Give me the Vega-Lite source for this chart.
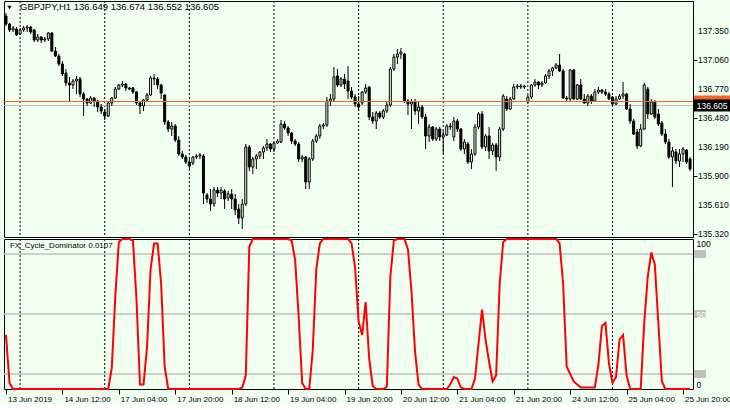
{
"$schema":"https://vega.github.io/schema/vega-lite/v6.json",
"background":"#F0FFF0",
"padding":{"left":1,"top":0,"right":0,"bottom":0},
"spacing":2,
"bounds":"flush",
"config":{"view":{"stroke":"#000","strokeWidth":1},"font":"Liberation Sans","axis":{"labelFont":"Liberation Sans","labelFontSize":8.5,"labelColor":"#000","tickColor":"#000","domain":false,"grid":false,"labelOverlap":false}},
"datasets":{
"candles":[
{"i":0,"o":137.50,"h":137.53,"l":137.40,"c":137.42,"v":36},
{"i":1,"o":137.42,"h":137.43,"l":137.34,"c":137.36,"v":4},
{"i":2,"o":137.36,"h":137.40,"l":137.34,"c":137.38,"v":0},
{"i":3,"o":137.37,"h":137.39,"l":137.30,"c":137.31,"v":0},
{"i":4,"o":137.32,"h":137.38,"l":137.31,"c":137.36,"v":0},
{"i":5,"o":137.36,"h":137.40,"l":137.34,"c":137.38,"v":0},
{"i":6,"o":137.38,"h":137.41,"l":137.34,"c":137.39,"v":0},
{"i":7,"o":137.39,"h":137.40,"l":137.32,"c":137.34,"v":0},
{"i":8,"o":137.36,"h":137.37,"l":137.24,"c":137.26,"v":0},
{"i":9,"o":137.26,"h":137.32,"l":137.24,"c":137.29,"v":0},
{"i":10,"o":137.29,"h":137.30,"l":137.23,"c":137.26,"v":0},
{"i":11,"o":137.26,"h":137.29,"l":137.24,"c":137.27,"v":0},
{"i":12,"o":137.27,"h":137.34,"l":137.25,"c":137.33,"v":0},
{"i":13,"o":137.33,"h":137.34,"l":137.14,"c":137.15,"v":0},
{"i":14,"o":137.15,"h":137.19,"l":137.09,"c":137.10,"v":0},
{"i":15,"o":137.10,"h":137.12,"l":137.00,"c":137.02,"v":0},
{"i":16,"o":137.02,"h":137.05,"l":136.90,"c":136.92,"v":0},
{"i":17,"o":136.93,"h":136.97,"l":136.80,"c":136.83,"v":0},
{"i":18,"o":136.83,"h":136.89,"l":136.65,"c":136.81,"v":0},
{"i":19,"o":136.81,"h":136.87,"l":136.77,"c":136.85,"v":0},
{"i":20,"o":136.85,"h":136.90,"l":136.72,"c":136.87,"v":0},
{"i":21,"o":136.87,"h":136.89,"l":136.69,"c":136.72,"v":0},
{"i":22,"o":136.72,"h":136.74,"l":136.50,"c":136.67,"v":0},
{"i":23,"o":136.67,"h":136.68,"l":136.60,"c":136.63,"v":0},
{"i":24,"o":136.63,"h":136.70,"l":136.62,"c":136.68,"v":0},
{"i":25,"o":136.68,"h":136.69,"l":136.59,"c":136.65,"v":0},
{"i":26,"o":136.65,"h":136.66,"l":136.54,"c":136.59,"v":0},
{"i":27,"o":136.59,"h":136.62,"l":136.52,"c":136.55,"v":0},
{"i":28,"o":136.54,"h":136.57,"l":136.46,"c":136.50,"v":0},
{"i":29,"o":136.50,"h":136.65,"l":136.49,"c":136.63,"v":0},
{"i":30,"o":136.63,"h":136.69,"l":136.60,"c":136.68,"v":14},
{"i":31,"o":136.68,"h":136.79,"l":136.67,"c":136.77,"v":62},
{"i":32,"o":136.77,"h":136.82,"l":136.76,"c":136.81,"v":98},
{"i":33,"o":136.81,"h":136.85,"l":136.79,"c":136.82,"v":100},
{"i":34,"o":136.82,"h":136.83,"l":136.75,"c":136.78,"v":100},
{"i":35,"o":136.78,"h":136.79,"l":136.76,"c":136.77,"v":100},
{"i":36,"o":136.78,"h":136.79,"l":136.72,"c":136.74,"v":99},
{"i":37,"o":136.74,"h":136.75,"l":136.61,"c":136.63,"v":60},
{"i":38,"o":136.63,"h":136.65,"l":136.52,"c":136.60,"v":3},
{"i":39,"o":136.60,"h":136.67,"l":136.55,"c":136.66,"v":3},
{"i":40,"o":136.66,"h":136.73,"l":136.65,"c":136.71,"v":28},
{"i":41,"o":136.71,"h":136.90,"l":136.70,"c":136.88,"v":80},
{"i":42,"o":136.88,"h":136.92,"l":136.81,"c":136.87,"v":97},
{"i":43,"o":136.87,"h":136.89,"l":136.77,"c":136.81,"v":97},
{"i":44,"o":136.81,"h":136.82,"l":136.67,"c":136.73,"v":70},
{"i":45,"o":136.71,"h":136.72,"l":136.41,"c":136.44,"v":15},
{"i":46,"o":136.44,"h":136.46,"l":136.34,"c":136.37,"v":0},
{"i":47,"o":136.37,"h":136.44,"l":136.30,"c":136.40,"v":0},
{"i":48,"o":136.40,"h":136.42,"l":136.24,"c":136.26,"v":0},
{"i":49,"o":136.26,"h":136.30,"l":136.10,"c":136.12,"v":0},
{"i":50,"o":136.12,"h":136.15,"l":136.07,"c":136.09,"v":0},
{"i":51,"o":136.09,"h":136.11,"l":136.02,"c":136.04,"v":0},
{"i":52,"o":136.04,"h":136.07,"l":135.97,"c":136.00,"v":0},
{"i":53,"o":136.03,"h":136.10,"l":136.01,"c":136.09,"v":0},
{"i":54,"o":136.09,"h":136.12,"l":136.07,"c":136.10,"v":0},
{"i":55,"o":136.10,"h":136.13,"l":136.07,"c":136.11,"v":0},
{"i":56,"o":136.10,"h":136.12,"l":135.62,"c":135.73,"v":0},
{"i":57,"o":135.71,"h":135.73,"l":135.63,"c":135.67,"v":0},
{"i":58,"o":135.67,"h":135.77,"l":135.55,"c":135.62,"v":0},
{"i":59,"o":135.62,"h":135.79,"l":135.59,"c":135.76,"v":0},
{"i":60,"o":135.76,"h":135.79,"l":135.69,"c":135.73,"v":0},
{"i":61,"o":135.73,"h":135.79,"l":135.67,"c":135.76,"v":0},
{"i":62,"o":135.75,"h":135.77,"l":135.57,"c":135.67,"v":0},
{"i":63,"o":135.68,"h":135.75,"l":135.65,"c":135.72,"v":0},
{"i":64,"o":135.72,"h":135.77,"l":135.57,"c":135.67,"v":0},
{"i":65,"o":135.67,"h":135.72,"l":135.51,"c":135.56,"v":0},
{"i":66,"o":135.57,"h":135.62,"l":135.42,"c":135.48,"v":0},
{"i":67,"o":135.48,"h":135.67,"l":135.37,"c":135.62,"v":1},
{"i":68,"o":135.62,"h":136.22,"l":135.60,"c":136.19,"v":9},
{"i":69,"o":136.19,"h":136.21,"l":135.95,"c":135.99,"v":95},
{"i":70,"o":135.99,"h":136.09,"l":135.92,"c":136.07,"v":100},
{"i":71,"o":136.07,"h":136.12,"l":135.97,"c":136.10,"v":100},
{"i":72,"o":136.10,"h":136.15,"l":136.07,"c":136.14,"v":100},
{"i":73,"o":136.14,"h":136.20,"l":136.07,"c":136.18,"v":100},
{"i":74,"o":136.18,"h":136.27,"l":136.15,"c":136.22,"v":100},
{"i":75,"o":136.22,"h":136.23,"l":136.14,"c":136.17,"v":100},
{"i":76,"o":136.17,"h":136.24,"l":136.14,"c":136.23,"v":100},
{"i":77,"o":136.23,"h":136.27,"l":136.22,"c":136.25,"v":100},
{"i":78,"o":136.24,"h":136.46,"l":136.23,"c":136.42,"v":100},
{"i":79,"o":136.42,"h":136.45,"l":136.36,"c":136.38,"v":100},
{"i":80,"o":136.38,"h":136.40,"l":136.30,"c":136.33,"v":100},
{"i":81,"o":136.33,"h":136.34,"l":136.22,"c":136.25,"v":99},
{"i":82,"o":136.25,"h":136.27,"l":136.20,"c":136.22,"v":86},
{"i":83,"o":136.22,"h":136.24,"l":136.04,"c":136.07,"v":48},
{"i":84,"o":136.07,"h":136.11,"l":136.04,"c":136.09,"v":4},
{"i":85,"o":136.09,"h":136.10,"l":135.77,"c":135.84,"v":0},
{"i":86,"o":135.84,"h":136.09,"l":135.77,"c":136.07,"v":0},
{"i":87,"o":136.07,"h":136.27,"l":136.05,"c":136.25,"v":26},
{"i":88,"o":136.25,"h":136.32,"l":136.23,"c":136.30,"v":80},
{"i":89,"o":136.30,"h":136.42,"l":136.27,"c":136.40,"v":97},
{"i":90,"o":136.40,"h":136.43,"l":136.37,"c":136.41,"v":100},
{"i":91,"o":136.41,"h":136.69,"l":136.39,"c":136.65,"v":100},
{"i":92,"o":136.65,"h":136.72,"l":136.60,"c":136.67,"v":100},
{"i":93,"o":136.67,"h":136.99,"l":136.64,"c":136.89,"v":100},
{"i":94,"o":136.90,"h":136.97,"l":136.79,"c":136.81,"v":100},
{"i":95,"o":136.81,"h":136.89,"l":136.79,"c":136.87,"v":100},
{"i":96,"o":136.87,"h":136.92,"l":136.77,"c":136.82,"v":100},
{"i":97,"o":136.85,"h":137.00,"l":136.67,"c":136.75,"v":100},
{"i":98,"o":136.75,"h":136.79,"l":136.67,"c":136.69,"v":97},
{"i":99,"o":136.69,"h":136.72,"l":136.59,"c":136.62,"v":81},
{"i":100,"o":136.62,"h":136.70,"l":136.55,"c":136.59,"v":45},
{"i":101,"o":136.63,"h":136.75,"l":136.61,"c":136.74,"v":36},
{"i":102,"o":136.74,"h":136.82,"l":136.72,"c":136.78,"v":58},
{"i":103,"o":136.79,"h":136.80,"l":136.46,"c":136.49,"v":20},
{"i":104,"o":136.49,"h":136.54,"l":136.42,"c":136.45,"v":2},
{"i":105,"o":136.45,"h":136.55,"l":136.37,"c":136.53,"v":0},
{"i":106,"o":136.53,"h":136.55,"l":136.47,"c":136.49,"v":0},
{"i":107,"o":136.49,"h":136.57,"l":136.47,"c":136.55,"v":0},
{"i":108,"o":136.55,"h":136.64,"l":136.53,"c":136.61,"v":1.5},
{"i":109,"o":136.61,"h":136.99,"l":136.59,"c":136.97,"v":75},
{"i":110,"o":136.97,"h":137.12,"l":136.95,"c":137.09,"v":99},
{"i":111,"o":137.09,"h":137.17,"l":137.02,"c":137.12,"v":100},
{"i":112,"o":137.12,"h":137.18,"l":137.07,"c":137.14,"v":100},
{"i":113,"o":137.12,"h":137.13,"l":136.63,"c":136.65,"v":100},
{"i":114,"o":136.65,"h":136.67,"l":136.51,"c":136.62,"v":93},
{"i":115,"o":136.62,"h":136.67,"l":136.37,"c":136.64,"v":65},
{"i":116,"o":136.64,"h":136.67,"l":136.51,"c":136.55,"v":25},
{"i":117,"o":136.55,"h":136.64,"l":136.42,"c":136.59,"v":3},
{"i":118,"o":136.59,"h":136.61,"l":136.47,"c":136.49,"v":0},
{"i":119,"o":136.49,"h":136.52,"l":136.17,"c":136.30,"v":0},
{"i":120,"o":136.30,"h":136.42,"l":136.24,"c":136.39,"v":0},
{"i":121,"o":136.39,"h":136.40,"l":136.25,"c":136.27,"v":0},
{"i":122,"o":136.27,"h":136.39,"l":136.25,"c":136.37,"v":0},
{"i":123,"o":136.37,"h":136.39,"l":136.25,"c":136.29,"v":0},
{"i":124,"o":136.29,"h":136.35,"l":136.12,"c":136.31,"v":0},
{"i":125,"o":136.31,"h":136.42,"l":136.30,"c":136.40,"v":0},
{"i":126,"o":136.40,"h":136.43,"l":136.36,"c":136.39,"v":3},
{"i":127,"o":136.29,"h":136.49,"l":136.25,"c":136.45,"v":8},
{"i":128,"o":136.45,"h":136.47,"l":136.34,"c":136.37,"v":7},
{"i":129,"o":136.37,"h":136.38,"l":136.15,"c":136.17,"v":1},
{"i":130,"o":136.17,"h":136.27,"l":136.12,"c":136.24,"v":0},
{"i":131,"o":136.22,"h":136.24,"l":136.02,"c":136.04,"v":0},
{"i":132,"o":136.04,"h":136.17,"l":135.97,"c":136.12,"v":0},
{"i":133,"o":136.12,"h":136.42,"l":136.10,"c":136.39,"v":7},
{"i":134,"o":136.39,"h":136.54,"l":136.37,"c":136.52,"v":30},
{"i":135,"o":136.52,"h":136.55,"l":136.17,"c":136.19,"v":53},
{"i":136,"o":136.19,"h":136.32,"l":136.15,"c":136.30,"v":33},
{"i":137,"o":136.30,"h":136.39,"l":136.07,"c":136.15,"v":18},
{"i":138,"o":136.15,"h":136.23,"l":136.11,"c":136.21,"v":5},
{"i":139,"o":136.21,"h":136.23,"l":135.95,"c":136.09,"v":9},
{"i":140,"o":136.09,"h":136.39,"l":136.05,"c":136.37,"v":70},
{"i":141,"o":136.37,"h":136.72,"l":136.35,"c":136.70,"v":98},
{"i":142,"o":136.67,"h":136.70,"l":136.55,"c":136.57,"v":100},
{"i":143,"o":136.57,"h":136.69,"l":136.56,"c":136.67,"v":100},
{"i":144,"o":136.67,"h":136.82,"l":136.66,"c":136.79,"v":100},
{"i":145,"o":136.79,"h":136.82,"l":136.77,"c":136.80,"v":100},
{"i":146,"o":136.80,"h":136.82,"l":136.77,"c":136.79,"v":100},
{"i":147,"o":136.79,"h":136.81,"l":136.77,"c":136.80,"v":100},
{"i":148,"o":136.64,"h":136.71,"l":136.62,"c":136.69,"v":100},
{"i":149,"o":136.69,"h":136.82,"l":136.67,"c":136.81,"v":100},
{"i":150,"o":136.81,"h":136.87,"l":136.79,"c":136.84,"v":100},
{"i":151,"o":136.84,"h":136.85,"l":136.77,"c":136.81,"v":100},
{"i":152,"o":136.81,"h":136.85,"l":136.79,"c":136.83,"v":100},
{"i":153,"o":136.83,"h":136.92,"l":136.82,"c":136.90,"v":100},
{"i":154,"o":136.90,"h":136.97,"l":136.87,"c":136.95,"v":100},
{"i":155,"o":136.95,"h":136.99,"l":136.90,"c":136.98,"v":100},
{"i":156,"o":136.98,"h":137.03,"l":136.97,"c":137.01,"v":100},
{"i":157,"o":137.01,"h":137.12,"l":136.94,"c":136.95,"v":97},
{"i":158,"o":136.95,"h":136.97,"l":136.67,"c":136.68,"v":70},
{"i":159,"o":136.68,"h":136.70,"l":136.64,"c":136.67,"v":15},
{"i":160,"o":136.67,"h":136.97,"l":136.65,"c":136.96,"v":10},
{"i":161,"o":136.96,"h":136.97,"l":136.66,"c":136.67,"v":5},
{"i":162,"o":136.67,"h":136.82,"l":136.66,"c":136.81,"v":3},
{"i":163,"o":136.81,"h":136.87,"l":136.66,"c":136.67,"v":1},
{"i":164,"o":136.67,"h":136.72,"l":136.62,"c":136.63,"v":1},
{"i":165,"o":136.63,"h":136.72,"l":136.60,"c":136.70,"v":1},
{"i":166,"o":136.70,"h":136.72,"l":136.62,"c":136.65,"v":1},
{"i":167,"o":136.65,"h":136.77,"l":136.64,"c":136.74,"v":1},
{"i":168,"o":136.74,"h":136.79,"l":136.72,"c":136.76,"v":16},
{"i":169,"o":136.76,"h":136.77,"l":136.72,"c":136.74,"v":42},
{"i":170,"o":136.74,"h":136.77,"l":136.70,"c":136.72,"v":44},
{"i":171,"o":136.72,"h":136.74,"l":136.66,"c":136.67,"v":17},
{"i":172,"o":136.69,"h":136.70,"l":136.60,"c":136.62,"v":4},
{"i":173,"o":136.62,"h":136.70,"l":136.61,"c":136.67,"v":8},
{"i":174,"o":136.67,"h":136.72,"l":136.66,"c":136.70,"v":33},
{"i":175,"o":136.70,"h":136.84,"l":136.67,"c":136.72,"v":36},
{"i":176,"o":136.72,"h":136.73,"l":136.56,"c":136.57,"v":9},
{"i":177,"o":136.57,"h":136.62,"l":136.42,"c":136.45,"v":0},
{"i":178,"o":136.45,"h":136.47,"l":136.31,"c":136.32,"v":0},
{"i":179,"o":136.34,"h":136.37,"l":136.17,"c":136.20,"v":0},
{"i":180,"o":136.20,"h":136.42,"l":136.19,"c":136.37,"v":0},
{"i":181,"o":136.37,"h":136.83,"l":136.36,"c":136.81,"v":44},
{"i":182,"o":136.77,"h":136.79,"l":136.47,"c":136.52,"v":75},
{"i":183,"o":136.52,"h":136.67,"l":136.51,"c":136.64,"v":91},
{"i":184,"o":136.64,"h":136.66,"l":136.47,"c":136.49,"v":83},
{"i":185,"o":136.52,"h":136.57,"l":136.40,"c":136.42,"v":44},
{"i":186,"o":136.43,"h":136.45,"l":136.30,"c":136.32,"v":5},
{"i":187,"o":136.32,"h":136.37,"l":136.22,"c":136.24,"v":0},
{"i":188,"o":136.24,"h":136.27,"l":136.07,"c":136.09,"v":0},
{"i":189,"o":136.09,"h":136.19,"l":135.79,"c":136.15,"v":0},
{"i":190,"o":136.14,"h":136.17,"l":136.02,"c":136.05,"v":0},
{"i":191,"o":136.05,"h":136.17,"l":135.99,"c":136.12,"v":0},
{"i":192,"o":136.12,"h":136.19,"l":136.04,"c":136.17,"v":0},
{"i":193,"o":136.16,"h":136.17,"l":136.02,"c":136.04,"v":0},
{"i":194,"o":136.07,"h":136.09,"l":135.95,"c":135.97,"v":0}
],
"seps":[{"i":4},{"i":28},{"i":52},{"i":76},{"i":100},{"i":124},{"i":148},{"i":172}],
"levels":[{"lvl":10},{"lvl":50},{"lvl":90}],
"plabels":[{"p":137.35,"x":196.26,"t":"137.350"},{"p":137.06,"x":196.26,"t":"137.060"},{"p":136.77,"x":196.26,"t":"136.770"},{"p":136.48,"x":196.26,"t":"136.480"},{"p":136.19,"x":196.26,"t":"136.190"},{"p":135.9,"x":196.26,"t":"135.900"},{"p":135.61,"x":196.26,"t":"135.610"},{"p":135.32,"x":196.26,"t":"135.320"}]
},
"vconcat":[
{
"width":689,"height":236,
"layer":[
{"data":{"name":"seps"},"mark":{"type":"rule","color":"#000","strokeWidth":1,"strokeDash":[2,2]},
 "encoding":{"x":{"field":"i","type":"quantitative","scale":{"domain":[-0.567,194.83],"nice":false,"zero":false,"padding":0},"axis":null}}},
{"data":{"values":[{"p":136.605}]},"mark":{"type":"rule","color":"#C0C0C0","strokeWidth":1},
 "encoding":{"y":{"field":"p","type":"quantitative","scale":{"domain":[135.29,137.65],"nice":false,"zero":false,"padding":0},
  "axis":{"orient":"right","title":null,"values":[137.35,137.06,136.77,136.48,136.19,135.9,135.61,135.32],"labels":false,"tickSize":4,"zindex":1}}}},
{"data":{"name":"candles"},"mark":{"type":"rule","color":"#000","strokeWidth":1},
 "encoding":{"x":{"field":"i","type":"quantitative","axis":null},"y":{"field":"l","type":"quantitative","title":null},"y2":{"field":"h"}}},
{"data":{"name":"candles"},"mark":{"type":"bar","width":2,"stroke":"#000","strokeWidth":1},
 "encoding":{"x":{"field":"i","type":"quantitative","axis":null},"y":{"field":"o","type":"quantitative","title":null},"y2":{"field":"c"},
  "fill":{"condition":{"test":"datum.c >= datum.o","value":"#F0FFF0"},"value":"#000000"}}},
{"data":{"values":[{"p":136.645}]},"mark":{"type":"rule","color":"#F26522","strokeWidth":1},
 "encoding":{"y":{"field":"p","type":"quantitative","title":null}}},
{"data":{"name":"plabels"},"mark":{"type":"text","align":"left","baseline":"middle","fontSize":8.5,"color":"#000","clip":false},
 "encoding":{"x":{"field":"x","type":"quantitative","axis":null},"y":{"field":"p","type":"quantitative","title":null},"text":{"field":"t"}}},
{"data":{"values":[{"p":136.645,"x":200.65}]},"mark":{"type":"point","shape":"M-1,-0.3077H1V0.3077H-1Z","size":1521,"filled":true,"color":"#F26522","opacity":1,"clip":false},
 "encoding":{"x":{"field":"x","type":"quantitative","axis":null},"y":{"field":"p","type":"quantitative","title":null}}},
{"data":{"values":[{"p":136.605,"x":200.65}]},"mark":{"type":"point","shape":"M-1,-0.3077H1V0.3077H-1Z","size":1521,"filled":true,"color":"#000000","opacity":1,"clip":false},
 "encoding":{"x":{"field":"x","type":"quantitative","axis":null},"y":{"field":"p","type":"quantitative","title":null}}},
{"data":{"values":[{"p":136.605,"x":195.9,"t":"136.605"}]},"mark":{"type":"text","align":"left","baseline":"middle","fontSize":8.5,"color":"#FFFFFF","clip":false},
 "encoding":{"x":{"field":"x","type":"quantitative","axis":null},"y":{"field":"p","type":"quantitative","title":null},"text":{"field":"t"}}},
{"data":{"values":[{"x":0.99,"p":137.585}]},"mark":{"type":"point","shape":"triangle-down","size":18,"filled":true,"color":"#000","opacity":1},
 "encoding":{"x":{"field":"x","type":"quantitative","axis":null},"y":{"field":"p","type":"quantitative","title":null}}},
{"data":{"values":[{"x":3.97,"p":137.59,"t":"GBPJPY,H1  136.649 136.674 136.552 136.605"}]},"mark":{"type":"text","align":"left","baseline":"middle","fontSize":9.5,"color":"#000"},
 "encoding":{"x":{"field":"x","type":"quantitative","axis":null},"y":{"field":"p","type":"quantitative","title":null},"text":{"field":"t"}}}
]
},
{
"width":689,"height":150,
"layer":[
{"data":{"name":"seps"},"mark":{"type":"rule","color":"#000","strokeWidth":1,"strokeDash":[2,2]},
 "encoding":{"x":{"field":"i","type":"quantitative","scale":{"domain":[-0.567,194.83],"nice":false,"zero":false,"padding":0},
  "axis":{"title":null,"values":[0,16,32,48,64,80,96,112,128,144,160,176,192],
   "labelExpr":"['13 Jun 2019','14 Jun 12:00','17 Jun 04:00','17 Jun 20:00','18 Jun 12:00','19 Jun 04:00','19 Jun 20:00','20 Jun 12:00','21 Jun 04:00','21 Jun 20:00','24 Jun 12:00','25 Jun 04:00','25 Jun 20:00'][round(datum.value/16)]",
   "labelAlign":"left","labelBaseline":"top","labelOffset":1.5,"labelPadding":1,"tickSize":5,"labelFontSize":8,"labelFlush":false,"labelBound":false,"labelOverlap":false}}}},
{"data":{"name":"levels"},"mark":{"type":"rule","color":"#C0C0C0","strokeWidth":1.5},
 "encoding":{"y":{"field":"lvl","type":"quantitative","scale":{"domain":[0,100],"nice":false,"zero":false,"padding":0},
  "axis":{"orient":"right","title":null,"values":[0,10,50,90,100],"ticks":false,"labelPadding":3,"labelFlush":true,"zindex":1,"labelOverlap":false,
   "labelColor":{"condition":{"test":"datum.value == 0 || datum.value == 100","value":"#000000"},"value":"#FFFFFF"}}}}},
{"data":{"name":"levels"},"mark":{"type":"point","shape":"M-1,-0.6667H1V0.6667H-1Z","size":144,"filled":true,"color":"#C0C0C0","opacity":1,"clip":false},
 "encoding":{"x":{"datum":196.8,"type":"quantitative","title":null},"y":{"field":"lvl","type":"quantitative","title":null}}},
{"data":{"name":"candles"},"mark":{"type":"line","color":"#FF0000","strokeWidth":2},
 "encoding":{"x":{"field":"i","type":"quantitative","title":null},"y":{"field":"v","type":"quantitative","title":null}}},
{"data":{"values":[{"x":1.13,"v":95.2,"t":"FX_Cycle_Dominator 0.0107"}]},"mark":{"type":"text","align":"left","baseline":"middle","fontSize":8,"color":"#000"},
 "encoding":{"x":{"field":"x","type":"quantitative","title":null},"y":{"field":"v","type":"quantitative","title":null},"text":{"field":"t"}}}
]
}
]
}
